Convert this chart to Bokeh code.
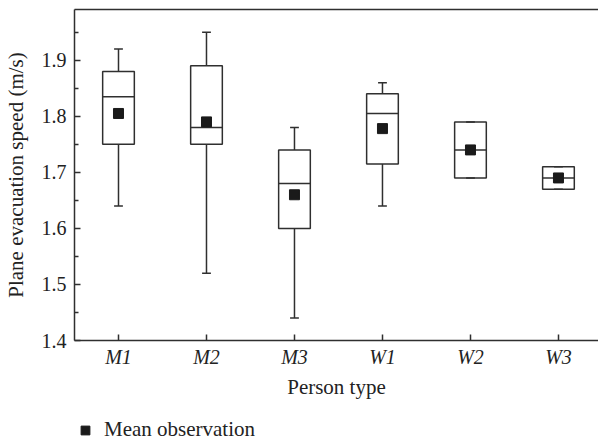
from bokeh.plotting import figure
from bokeh.layouts import column
from bokeh.models import (Range1d, FixedTicker, Legend, LegendItem, ColumnDataSource,
                          LinearAxis)
from bokeh.transform import dodge
from bokeh.embed import file_html
from bokeh.resources import INLINE

categories = ["M1", "M2", "M3", "W1", "W2", "W3"]
whisker_low = [1.64, 1.52, 1.44, 1.64, 1.69, 1.67]
q1 = [1.75, 1.75, 1.60, 1.715, 1.69, 1.67]
median = [1.835, 1.78, 1.68, 1.805, 1.74, 1.69]
q3 = [1.88, 1.89, 1.74, 1.84, 1.79, 1.71]
whisker_high = [1.92, 1.95, 1.78, 1.86, 1.79, 1.71]
mean = [1.805, 1.79, 1.66, 1.778, 1.74, 1.69]

y_ticks = [1.4, 1.5, 1.6, 1.7, 1.8, 1.9]

xpos = list(range(1, len(categories) + 1))
src = ColumnDataSource(dict(x=xpos, lo=whisker_low, q1=q1, med=median, q3=q3,
                            hi=whisker_high, mean=mean))

FONT = "Liberation Serif"
LC = "#2f2f2f"
TC = "#222222"
MC = "#1a1a1a"
BOX_W = 0.36
CAP_W = 0.1

p = figure(width=598, height=410, x_range=Range1d(0.5, 6.455), y_range=Range1d(1.4, 1.9905),
           output_backend="svg", toolbar_location=None,
           min_border_left=74, min_border_right=0, min_border_top=9, min_border_bottom=70)
p.outline_line_color = None
p.xgrid.visible = False
p.ygrid.visible = False
p.background_fill_color = "white"
p.border_fill_color = "white"

xa = p.below[0]
ya = p.left[0]

# whiskers
p.segment(x0="x", y0="q3", x1="x", y1="hi", source=src, line_color=LC, line_width=1.5)
p.segment(x0="x", y0="lo", x1="x", y1="q1", source=src, line_color=LC, line_width=1.5)
# caps
p.segment(x0=dodge("x", -CAP_W / 2), x1=dodge("x", CAP_W / 2), y0="hi", y1="hi",
          source=src, line_color=LC, line_width=1.5)
p.segment(x0=dodge("x", -CAP_W / 2), x1=dodge("x", CAP_W / 2), y0="lo", y1="lo",
          source=src, line_color=LC, line_width=1.5)
# boxes
p.vbar(x="x", width=BOX_W, bottom="q1", top="q3", source=src, fill_color=None,
       line_color=LC, line_width=1.5)
# medians
p.segment(x0=dodge("x", -BOX_W / 2), x1=dodge("x", BOX_W / 2), y0="med", y1="med",
          source=src, line_color=LC, line_width=1.5)
# means
p.scatter(x="x", y="mean", source=src, marker="square", size=10,
          fill_color=MC, line_color=MC)

# top border line (plain axis, ticks and labels hidden)
top = LinearAxis(ticker=FixedTicker(ticks=[1]), major_tick_out=0, major_tick_in=0,
                 minor_tick_out=0, minor_tick_in=0, major_label_standoff=0,
                 major_label_overrides={1: " "},
                 major_label_text_font_size="1px", major_label_text_alpha=0,
                 major_tick_line_color=None, minor_tick_line_color=None,
                 axis_line_color=LC, axis_line_width=1.5)
p.add_layout(top, "above")

# x axis
xa.ticker = FixedTicker(ticks=xpos)
xa.major_label_overrides = {i: c for i, c in zip(xpos, categories)}
xa.major_label_text_font = FONT
xa.major_label_text_font_style = "italic"
xa.major_label_text_font_size = "20px"
xa.major_label_text_color = TC
xa.major_label_standoff = 5
xa.major_tick_in = 6
xa.major_tick_out = 0
xa.minor_tick_line_color = None
xa.axis_line_color = LC
xa.axis_line_width = 1.5
xa.major_tick_line_color = LC
xa.major_tick_line_width = 1.5
xa.axis_label = "Person type"
xa.axis_label_text_font = FONT
xa.axis_label_text_font_style = "normal"
xa.axis_label_text_font_size = "21px"
xa.axis_label_text_color = TC
xa.axis_label_standoff = 4

# y axis
ya.ticker = FixedTicker(ticks=y_ticks,
                        minor_ticks=[t + 0.05 for t in y_ticks])
ya.major_label_overrides = {t: f"{t:.1f}" for t in y_ticks}
ya.major_label_text_font = FONT
ya.major_label_text_font_size = "20px"
ya.major_label_text_color = TC
ya.major_label_standoff = 8
ya.major_tick_in = 6
ya.major_tick_out = 0
ya.minor_tick_in = 4
ya.minor_tick_out = 0
ya.axis_line_color = LC
ya.axis_line_width = 1.5
ya.major_tick_line_color = LC
ya.major_tick_line_width = 1.5
ya.minor_tick_line_color = LC
ya.minor_tick_line_width = 1.5
ya.axis_label = "Plane evacuation speed (m/s)"
ya.axis_label_text_font = FONT
ya.axis_label_text_font_style = "normal"
ya.axis_label_text_font_size = "21px"
ya.axis_label_text_color = TC
ya.axis_label_standoff = 11

# legend strip below the chart (its key glyph uses the mean data, which lies
# outside this strip's 0..1 range so only the legend entry is visible)
p2 = figure(width=598, height=33, x_range=Range1d(0, 1), y_range=Range1d(0, 1),
            output_backend="svg", toolbar_location=None,
            min_border_left=60, min_border_right=0, min_border_top=0, min_border_bottom=1,
            x_axis_type=None, y_axis_type=None)
p2.outline_line_color = None
p2.background_fill_color = "white"
p2.border_fill_color = "white"
key = p2.scatter(x="x", y="mean", source=src, marker="square", size=10,
                 fill_color=MC, line_color=MC)
legend = Legend(items=[LegendItem(label="Mean observation", renderers=[key])],
                location="bottom_left", padding=0, margin=0, spacing=0,
                glyph_width=22, glyph_height=22, label_standoff=8,
                label_text_font=FONT, label_text_font_size="21px",
                label_text_color=TC,
                border_line_color=None, background_fill_alpha=0)
p2.add_layout(legend, "center")

layout = column(p, p2, spacing=0)
open("out.html", "w").write(file_html(layout, INLINE))
